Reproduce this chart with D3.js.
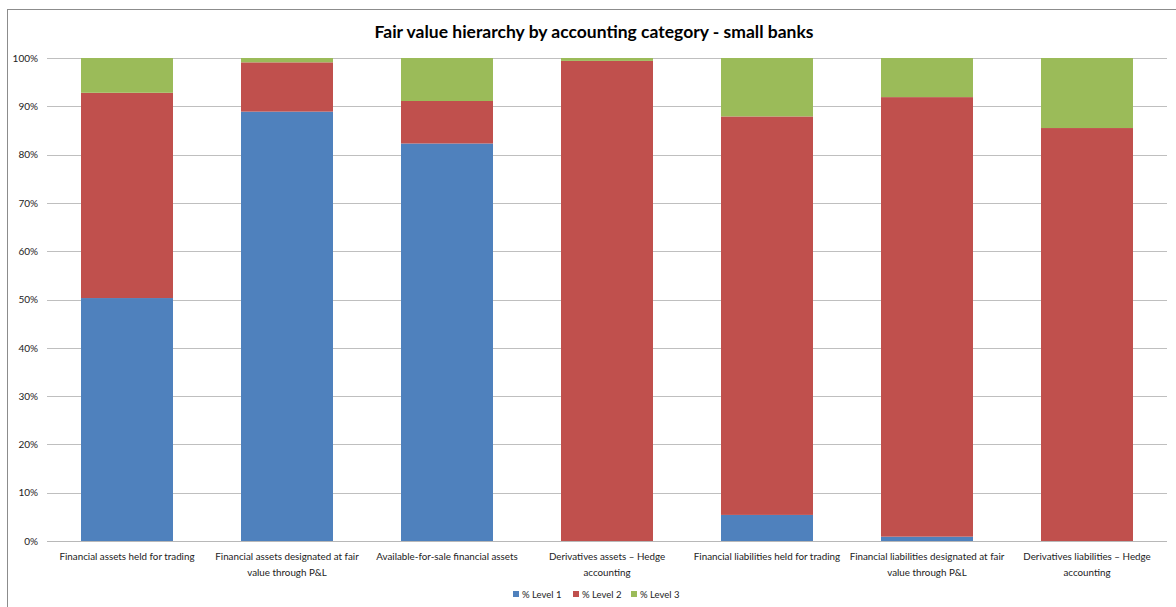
<!DOCTYPE html>
<html>
<head>
<meta charset="utf-8">
<script src="https://cdn.jsdelivr.net/npm/d3@7"></script>
<style>
  html, body { margin: 0; padding: 0; background: #fff; }
  svg { display: block; font-family: Lato, "Open Sans", sans-serif; }
</style>
</head>
<body>
<svg id="chart" width="1176" height="607"></svg>
<script>
// Accounting categories (x axis), each label split over lines
const categories = [
  ["Financial assets held for trading"],
  ["Financial assets designated at fair", "value through P&L"],
  ["Available-for-sale financial assets"],
  ["Derivatives assets \u2013 Hedge", "accounting"],
  ["Financial liabilities held for trading"],
  ["Financial liabilities designated at fair", "value through P&L"],
  ["Derivatives liabilities \u2013 Hedge", "accounting"]
];

// Share of fair value by hierarchy level (%)
const level1 = [50.3, 88.9, 82.3, 0.0, 5.4, 0.9, 0.0];
const level2 = [42.5, 10.2, 8.8, 99.4, 82.5, 91.0, 85.5];
const level3 = [7.2, 0.9, 8.9, 0.6, 12.1, 8.1, 14.5];

const seriesNames = ["% Level 1", "% Level 2", "% Level 3"];
const seriesColors = ["#4f81bd", "#c0504d", "#9bbb59"];
const yTicks = [0, 10, 20, 30, 40, 50, 60, 70, 80, 90, 100];

const svg = d3.select("#chart");
const plot = { left: 47, right: 1167, top: 58, bottom: 541 };

// Outer chart frame
svg.append("rect")
  .attr("x", 7.5).attr("y", 9.5)
  .attr("width", 1180).attr("height", 620)
  .attr("fill", "#fff").attr("stroke", "#8c8c8c").attr("stroke-width", 1);

// Title
svg.append("text")
  .attr("x", 594).attr("y", 38)
  .attr("text-anchor", "middle")
  .attr("font-size", 17.5).attr("font-weight", "bold")
  .attr("fill", "#000")
  .text("Fair value hierarchy by accounting category - small banks");

const x = d3.scaleBand()
  .domain(d3.range(categories.length))
  .range([plot.left, plot.right])
  .paddingInner(0.425).paddingOuter(0.2125);

const y = d3.scaleLinear().domain([0, 100]).range([plot.bottom, plot.top]);

// Horizontal gridlines
svg.append("g")
  .selectAll("line")
  .data(yTicks)
  .join("line")
  .attr("x1", plot.left).attr("x2", plot.right)
  .attr("y1", d => Math.round(y(d)) + 0.5).attr("y2", d => Math.round(y(d)) + 0.5)
  .attr("stroke", d => d === 0 ? "#b8b8b8" : "#bfbfbf").attr("stroke-width", 1);

// Y-axis tick labels
const yAxis = d3.axisLeft(y).tickValues(yTicks).tickFormat(d => d + "%").tickSize(0).tickPadding(9);
svg.append("g")
  .attr("transform", `translate(${plot.left},0)`)
  .call(yAxis)
  .call(g => g.select(".domain").remove())
  .call(g => g.selectAll("text").attr("font-size", 10).attr("fill", "#222").attr("font-family", "Lato, sans-serif"));

// Stacked bars
const rows = categories.map((c, i) => ({ i, l1: level1[i], l2: level2[i], l3: level3[i] }));
const stack = d3.stack().keys(["l1", "l2", "l3"]);
const layers = stack(rows);

svg.append("g")
  .selectAll("g")
  .data(layers)
  .join("g")
  .attr("fill", (d, k) => seriesColors[k])
  .selectAll("rect")
  .data(d => d)
  .join("rect")
  .attr("x", d => x(d.data.i))
  .attr("width", x.bandwidth())
  .attr("y", d => y(d[1]))
  .attr("height", d => Math.max(0, y(d[0]) - y(d[1])));

// Category labels under the axis
const xl = svg.append("g");
categories.forEach((lines, i) => {
  const t = xl.append("text")
    .attr("x", x(i) + x.bandwidth() / 2)
    .attr("y", 560)
    .attr("text-anchor", "middle")
    .attr("font-size", 9.8)
    .attr("fill", "#222");
  lines.forEach((ln, j) => {
    t.append("tspan")
      .attr("x", x(i) + x.bandwidth() / 2)
      .attr("dy", j === 0 ? 0 : 15.5)
      .text(ln);
  });
});

// Legend
const legend = svg.append("g").attr("transform", "translate(0,598)");
const legendX = [513, 573, 631];
seriesNames.forEach((name, k) => {
  legend.append("rect")
    .attr("x", legendX[k]).attr("y", -7)
    .attr("width", 6).attr("height", 6)
    .attr("fill", seriesColors[k]);
  legend.append("text")
    .attr("x", legendX[k] + 9).attr("y", 0)
    .attr("font-size", 9.5)
    .attr("fill", "#222")
    .text(name);
});
</script>
</body>
</html>
